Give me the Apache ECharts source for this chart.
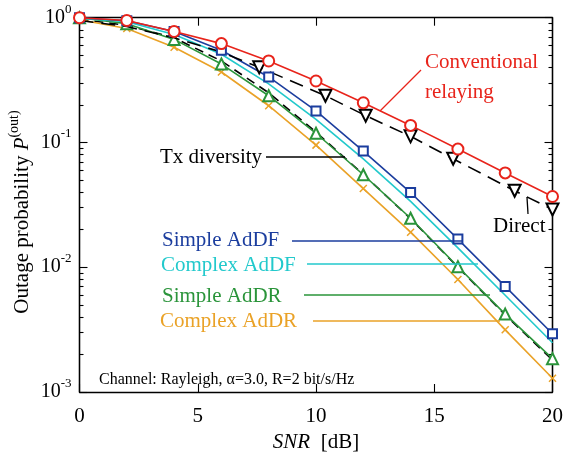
<!DOCTYPE html>
<html><head><meta charset="utf-8">
<script src="https://cdn.jsdelivr.net/npm/echarts@6/dist/echarts.min.js"></script>
<style>html,body{margin:0;padding:0;background:#fff}#c{width:566px;height:458px}</style>
</head><body><div id="c"></div>
<script>
// ---------- data ----------
const snr = [0, 2, 4, 6, 8, 10, 12, 14, 16, 18, 20];
const conventional = [1.0, 0.95, 0.775, 0.62, 0.45, 0.311, 0.208, 0.137, 0.0885, 0.057, 0.0369];
const simpleAdDF  = [1.0, 0.946, 0.775, 0.548, 0.335, 0.179, 0.0853, 0.0397, 0.0168, 0.00702, 0.00293];
const complexAdDF = [0.99, 0.929, 0.733, 0.509, 0.295, 0.153, 0.0738, 0.0337, 0.01428, 0.00596, 0.00248];
const simpleAdDR  = [1.0, 0.896, 0.67, 0.425, 0.237, 0.1185, 0.0551, 0.0247, 0.0101, 0.00421, 0.00185];
const complexAdDR = [0.964, 0.818, 0.579, 0.367, 0.197, 0.0952, 0.0427, 0.0191, 0.00798, 0.00315, 0.00129];
const txDiversity = [0.97, 0.87, 0.69, 0.45, 0.25, 0.121, 0.0555, 0.0245, 0.0100, 0.00415, 0.00180];
const directSnr   = [0, 2, 4, 6, 7.6, 10.4, 12.1, 14, 15.8, 18.4, 20];
const directVals  = [0.95, 0.85, 0.69, 0.53, 0.40, 0.237, 0.164, 0.112, 0.074, 0.041, 0.029];
const directMarked = [false, false, false, false, true, true, true, true, true, true, true];
const xTicks = [0, 5, 10, 15, 20];
const yTicks = [1e-3, 1e-2, 1e-1, 1];

// ---------- style ----------
const FONT = 'Liberation Serif';
const C = {red:'#e8241b', blue:'#1b3d9e', cyan:'#22c9cc', green:'#2a943a', orange:'#eaa227', black:'#000'};
const minorVals = [];
for (let k = -3; k < 0; k++) for (let m = 2; m <= 9; m++) minorVals.push(+(m * Math.pow(10, k)).toPrecision(3));

const chart = echarts.init(document.getElementById('c'), null, {renderer:'canvas'});
const grid = {left:79.5, right:7, top:17.7, bottom:60.5};

function yAxisBase(pos, show, customTicks, len){
  return {
    type:'log', logBase:10, min:0.001, max:1, position:pos, gridIndex:0,
    axisLine:{show:true, onZero:false, lineStyle:{color:'#000', width:1.3}},
    axisTick:{show:true, inside:true, length:len, customValues:customTicks, lineStyle:{color:'#000', width:1.1}},
    splitLine:{show:false}, minorTick:{show:false}, minorSplitLine:{show:false},
    axisLabel:{show:show}
  };
}
const yMain = yAxisBase('left', true, yTicks, 8);
yMain.axisLabel = {
  show:true, margin:8, customValues:yTicks,
  formatter:(v)=>'{b|10}{s|' + Math.round(Math.log10(v)) + '}',
  rich:{
    b:{fontFamily:FONT, fontSize:20, color:'#000', lineHeight:30},
    s:{fontFamily:FONT, fontSize:13, color:'#000', lineHeight:12, verticalAlign:'top'}
  }
};

function mkSeries(name, xs, ys, color, opts){
  return Object.assign({
    name, type:'line', xAxisIndex:0, yAxisIndex:0,
    data: xs.map((x,i)=>[x, ys[i]]),
    lineStyle:{color, width:1.6},
    itemStyle:{color, borderColor:color, borderWidth:1.5},
    symbolSize:9, showSymbol:true, animation:false, clip:false
  }, opts||{});
}

const option = {
  animation:false,
  backgroundColor:'#fff',
  grid,
  xAxis:[
    {type:'value', min:0, max:20, interval:5, position:'bottom',
     axisLine:{show:true, onZero:false, lineStyle:{color:'#000', width:1.3}},
     axisTick:{show:true, inside:true, length:8, lineStyle:{color:'#000', width:1.1}},
     splitLine:{show:false},
     axisLabel:{margin:14, color:'#000', fontFamily:FONT, fontSize:21,
                customValues:xTicks, showMinLabel:true, showMaxLabel:true},
     name:'{i|SNR}{n|  [dB]}', nameLocation:'middle', nameGap:40,
     nameTextStyle:{rich:{i:{fontFamily:FONT, fontStyle:'italic', fontSize:21, color:'#000'},
                          n:{fontFamily:FONT, fontSize:21, color:'#000'}}}},
    {type:'value', min:0, max:20, interval:5, position:'top',
     axisLine:{show:true, onZero:false, lineStyle:{color:'#000', width:1.3}},
     axisTick:{show:true, inside:true, length:8, lineStyle:{color:'#000', width:1.1}},
     splitLine:{show:false}, axisLabel:{show:false}}
  ],
  yAxis:[
    yMain,
    yAxisBase('left', false, minorVals, 4),
    yAxisBase('right', false, yTicks, 8),
    yAxisBase('right', false, minorVals, 4)
  ],
  series:[
    mkSeries('Tx diversity', snr, txDiversity, C.black,
      {symbol:'none', lineStyle:{color:C.black, width:1.6, type:[9,6]}, z:1}),
    mkSeries('Complex AdDR', snr, complexAdDR, C.orange,
      {symbol:'path://M0,0L10,10M10,0L0,10', symbolSize:7, z:2}),
    mkSeries('Simple AdDR', snr, simpleAdDR, C.green,
      {symbol:'emptyTriangle', symbolSize:11, z:3}),
    mkSeries('Complex AdDF', snr, complexAdDF, C.cyan, {symbol:'none', z:3}),
    mkSeries('Simple AdDF', snr, simpleAdDF, C.blue,
      {symbol:'emptyRect', symbolSize:9, z:4}),
    Object.assign(mkSeries('Direct', directSnr, directVals, C.black,
      {symbol:'emptyTriangle', symbolRotate:180, symbolSize:12,
       lineStyle:{color:C.black, width:1.6, type:[14,8]}, z:4}), {
       data: directSnr.map((x,i)=>directMarked[i] ? [x, directVals[i]] : {value:[x, directVals[i]], symbol:'none'})
    }),
    mkSeries('Conventional relaying', snr, conventional, C.red,
      {symbol:'emptyCircle', symbolSize:11, z:5})
  ]
};
chart.setOption(option);

// ---------- annotations ----------
function txt(x, y, text, color, size, extra){
  return Object.assign({type:'text', x, y, silent:true, z:100,
    style:Object.assign({text, fill:color, font:(size||21)+'px "'+FONT+'"', align:'left', verticalAlign:'middle'}, {})}, extra||{});
}
function seg(x1,y1,x2,y2,color,w){
  return {type:'line', silent:true, z:90, shape:{x1,y1,x2,y2}, style:{stroke:color, lineWidth:w||1.4}};
}
function px(x, y){ return chart.convertToPixel({xAxisIndex:0, yAxisIndex:0}, [x, y]); }

const pConv = px(12.5, 0.140 + (0.208-0.137)*0.0); // placeholder unused
const gfx = [
  txt(425, 62, 'Conventional', C.red),
  txt(425, 92, 'relaying', C.red),
  seg(421, 70, 380, 111, C.red, 1.2),
  txt(160, 157, 'Tx diversity', '#000'),
  seg(266, 157, 345, 157, '#000', 1.4),
  txt(493, 226, 'Direct', '#000'),
  seg(527, 197, 528, 214, '#000', 1.3),
  txt(162, 240, 'Simple AdDF', C.blue),
  seg(292, 241, 463, 241, C.blue, 1.4),
  txt(161, 265, 'Complex AdDF', C.cyan),
  seg(307, 264, 478, 264, C.cyan, 1.4),
  txt(162, 296, 'Simple AdDR', C.green),
  seg(304, 295, 490, 295, C.green, 1.4),
  txt(160, 321, 'Complex AdDR', C.orange),
  seg(313, 321, 500, 321, C.orange, 1.4),
  txt(99, 380, 'Channel: Rayleigh, \u03b1=3.0, R=2 bit/s/Hz', '#000', 16),
  {type:'text', x:22, y:212, rotation:Math.PI/2, silent:true, z:100,
   style:{text:'{n|Outage probability }{p|P}{s|(out)}', align:'center', verticalAlign:'middle',
     rich:{n:{fontFamily:FONT, fontSize:21, fill:'#000', lineHeight:30},
           p:{fontFamily:FONT, fontSize:21, fontStyle:'italic', fill:'#000', lineHeight:30},
           s:{fontFamily:FONT, fontSize:14, fill:'#000', lineHeight:14, verticalAlign:'top'}}}}
];
chart.setOption({graphic:gfx});
</script>
</body></html>
